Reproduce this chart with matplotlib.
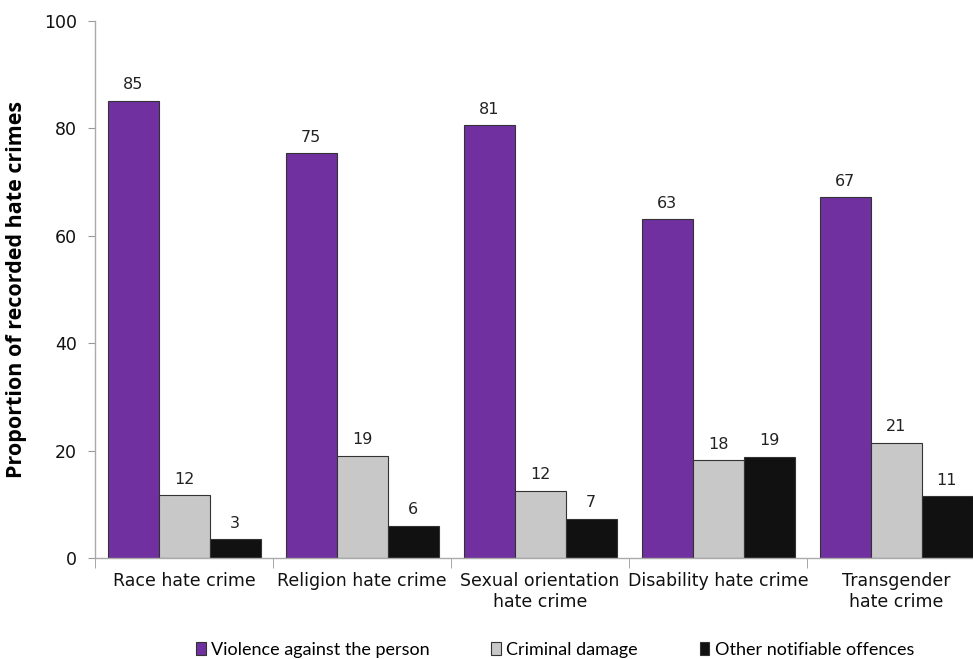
import matplotlib
matplotlib.use("Agg")
import matplotlib.pyplot as plt
import numpy as np
from matplotlib.patches import Patch

categories = ["Race hate crime", "Religion hate crime", "Sexual orientation\nhate crime",
              "Disability hate crime", "Transgender\nhate crime"]
series_names = ["Violence against the person", "Criminal damage", "Other notifiable offences"]
violence = [85.1, 75.4, 80.6, 63.1, 67.2]
criminal = [11.7, 19.0, 12.5, 18.2, 21.4]
other = [3.5, 6.0, 7.3, 18.8, 11.5]
violence_labels = ["85", "75", "81", "63", "67"]
criminal_labels = ["12", "19", "12", "18", "21"]
other_labels = ["3", "6", "7", "19", "11"]
colors = ["#7030A0", "#C8C8C8", "#111111"]

plt.rcParams['font.family'] = ['DejaVu Sans']
W, H = 973, 659
fig = plt.figure(figsize=(W/100, H/100), dpi=100)
ax = fig.add_axes([95/W, (H-558)/H, 890/W, 537/H])

x = np.arange(len(categories))
bw = 51/178
series = [violence, criminal, other]
labels = [violence_labels, criminal_labels, other_labels]
for i, (vals, labs, c) in enumerate(zip(series, labels, colors)):
    pos = x + (i-1)*bw
    ax.bar(pos, vals, width=bw, color=c, edgecolor="#333333", linewidth=0.8)
    for p, v, l in zip(pos, vals, labs):
        ax.text(p, v + 1.6, l, ha='center', va='bottom', fontsize=11.5, color='#222222')

ax.set_xlim(-0.5, len(categories)-0.5)
ax.set_ylim(0, 100)
ax.set_yticks([0, 20, 40, 60, 80, 100])
ax.tick_params(axis='y', labelsize=12.5, length=5, color='#999999', labelcolor='#111111', pad=8)
ax.set_xticks(x)
ax.set_xticklabels(categories, fontsize=12.5, color='#111111')
ax.tick_params(axis='x', length=0, pad=10)
ax.set_xticks(np.arange(len(categories)+1)-0.5, minor=True)
ax.tick_params(axis='x', which='minor', length=7, color='#999999')
for s in ['top', 'right']:
    ax.spines[s].set_visible(False)
for s in ['left', 'bottom']:
    ax.spines[s].set_color('#aaaaaa')
    ax.spines[s].set_linewidth(1.0)
ax.set_ylabel("Proportion of recorded hate crimes", fontsize=15.5, fontweight='bold',
              family=['Open Sans', 'DejaVu Sans'])
ax.yaxis.set_label_coords(-68/890, 0.5)

handles = [Patch(facecolor=c, edgecolor="#333333", linewidth=0.8) for c in colors]
fig.legend(handles, series_names, loc='center', bbox_to_anchor=(555/W, 9/H), ncol=3,
           frameon=False, prop={'family': ['Lato', 'DejaVu Sans'], 'size': 13},
           handlelength=0.55, handleheight=0.7,
           handletextpad=0.3, columnspacing=3.4)

fig.savefig("out.png", dpi=100)
